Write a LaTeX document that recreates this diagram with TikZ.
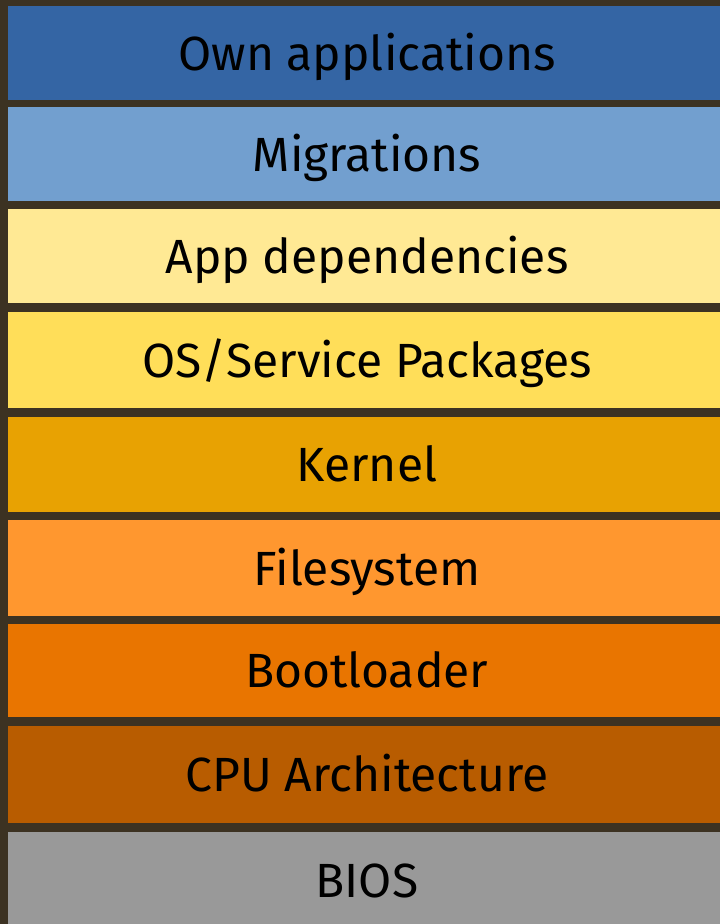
\documentclass[tikz,border=0pt]{standalone}
\usepackage{fontspec}
\setmainfont{Fira Sans}
\definecolor{bgdark}{HTML}{3C3222}
\definecolor{cOwn}{HTML}{3465A4}
\definecolor{cMig}{HTML}{729FCF}
\definecolor{cApp}{HTML}{FFE994}
\definecolor{cOS}{HTML}{FFDE59}
\definecolor{cKer}{HTML}{E8A202}
\definecolor{cFs}{HTML}{FF972F}
\definecolor{cBoot}{HTML}{E97500}
\definecolor{cCpu}{HTML}{B85C00}
\definecolor{cBios}{HTML}{999999}
\tikzset{
  layer/.style={rectangle, draw=none, inner sep=0pt, minimum width=712pt,
    font=\fontsize{48}{58}\selectfont, text=black, text height=34pt, text depth=0pt}
}
\begin{document}
\begin{tikzpicture}[x=1pt,y=-1pt]
\useasboundingbox (0,0) rectangle (720,924);
\fill[bgdark] (0,0) rectangle (720,924);
\begin{scope}
\clip (0,0) rectangle (720,924);
\node[layer, fill=cOwn,  minimum height=94pt] (own)  at (364,53)  {\hspace{6pt}Own applications};
\node[layer, fill=cMig,  minimum height=94pt] (mig)  at (364,154) {\hspace{6pt}Migrations};
\node[layer, fill=cApp,  minimum height=94pt] (app)  at (364,256) {\hspace{6pt}App dependencies};
\node[layer, fill=cOS,   minimum height=96pt] (os)   at (364,360) {\hspace{6pt}OS/Service Packages};
\node[layer, fill=cKer,  minimum height=95pt] (ker)  at (364,464.5) {\hspace{6pt}Kernel};
\node[layer, fill=cFs,   minimum height=96pt] (fs)   at (364,568) {\hspace{6pt}Filesystem};
\node[layer, fill=cBoot, minimum height=93pt] (boot) at (364,670.5) {\hspace{6pt}Bootloader};
\node[layer, fill=cCpu,  minimum height=97pt] (cpu)  at (364,774.5) {\hspace{6pt}CPU Architecture};
\node[layer, fill=cBios, minimum height=96pt] (bios) at (364,880) {\hspace{6pt}BIOS};
\end{scope}
\end{tikzpicture}
\end{document}
